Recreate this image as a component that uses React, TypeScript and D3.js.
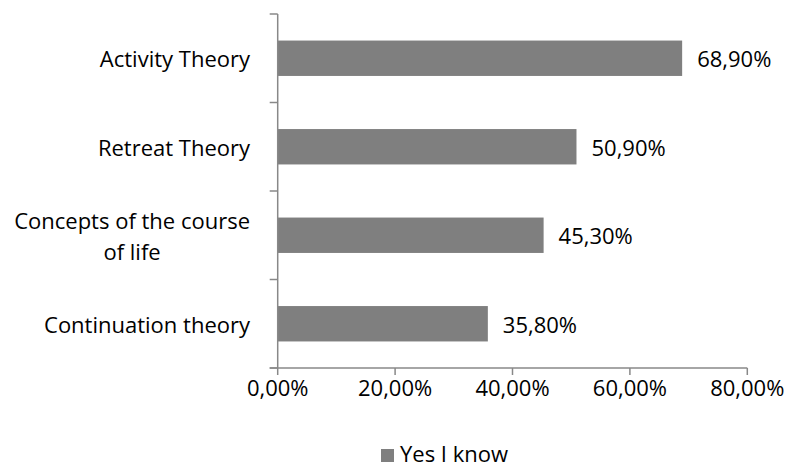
import React, { useEffect, useRef } from 'react';
import * as d3 from 'd3';

const categories = ['Activity Theory', 'Retreat Theory', 'Concepts of the course of life', 'Continuation theory'];
const values = [68.9, 50.9, 45.3, 35.8];
const xTicks = [0, 20, 40, 60, 80];
const seriesName = 'Yes I know';

const W = 787;
const H = 468;
const FONT = "'Open Sans', sans-serif";

const pct = (v: number) => d3.format('.2f')(v).replace('.', ',') + '%';

// greedy word wrap, Excel wraps the long category label
const wrap = (s: string, max: number) => {
  const lines: string[] = [];
  let cur = '';
  s.split(' ').forEach(w => {
    const next = cur ? cur + ' ' + w : w;
    if (next.length > max && cur) {
      lines.push(cur);
      cur = w;
    } else cur = next;
  });
  if (cur) lines.push(cur);
  return lines;
};

const App: React.FC = () => {
  const svgRef = useRef<SVGSVGElement>(null);

  useEffect(() => {
    if (!svgRef.current) return;
    const svg = d3.select(svgRef.current);
    svg.selectAll('*').remove();

    const axisColor = '#888888';
    const barColor = '#7f7f7f';

    const x = d3.scaleLinear().domain([0, 80]).range([277.7, 747.3]);
    const y = d3.scaleBand<string>()
      .domain(categories)
      .range([14, 368])
      .paddingInner(0.6)
      .paddingOuter(0.3);

    const g = svg.append('g').style('font-family', FONT).style('font-size', '22px');

    // bars
    g.selectAll('rect.bar')
      .data(values)
      .join('rect')
      .attr('class', 'bar')
      .attr('x', x(0))
      .attr('y', (_, i) => y(categories[i])!)
      .attr('width', d => x(d) - x(0))
      .attr('height', y.bandwidth())
      .attr('fill', barColor);

    // value labels
    g.selectAll('text.val')
      .data(values)
      .join('text')
      .attr('class', 'val')
      .attr('x', d => x(d) + 15)
      .attr('y', (_, i) => y(categories[i])! + y.bandwidth() / 2)
      .attr('dominant-baseline', 'central')
      .attr('fill', '#000')
      .text(d => pct(d));

    // y axis line + boundary ticks
    const step = y.step();
    const y0 = 14;
    const y1 = 368;
    g.append('line')
      .attr('x1', x(0)).attr('x2', x(0))
      .attr('y1', y0).attr('y2', y1)
      .attr('stroke', axisColor).attr('stroke-width', 1.5);
    d3.range(categories.length + 1).forEach(i => {
      const yy = y0 + i * step;
      g.append('line')
        .attr('x1', x(0) - 8).attr('x2', x(0))
        .attr('y1', yy).attr('y2', yy)
        .attr('stroke', axisColor).attr('stroke-width', 1.5);
    });

    // x axis
    g.append('line')
      .attr('x1', x(0) - 8).attr('x2', x(80))
      .attr('y1', y1).attr('y2', y1)
      .attr('stroke', axisColor).attr('stroke-width', 1.5);
    xTicks.forEach(t => {
      g.append('line')
        .attr('x1', x(t)).attr('x2', x(t))
        .attr('y1', y1).attr('y2', y1 + 7)
        .attr('stroke', axisColor).attr('stroke-width', 1.5);
      g.append('text')
        .attr('x', x(t))
        .attr('y', 396)
        .attr('text-anchor', 'middle')
        .attr('fill', '#000')
        .text(pct(t));
    });

    // category labels (wrapped lines centred inside their block, block right-aligned)
    const labelRight = 250;
    const lineH = 31;
    categories.forEach(c => {
      const lines = wrap(c, 22);
      const cy = y(c)! + y.bandwidth() / 2;
      const texts = lines.map((ln, k) =>
        g.append('text')
          .attr('y', cy + (k - (lines.length - 1) / 2) * lineH)
          .attr('dominant-baseline', 'central')
          .attr('text-anchor', 'middle')
          .attr('fill', '#000')
          .text(ln)
      );
      const widths = texts.map(t => (t.node() as SVGTextElement).getComputedTextLength());
      const blockW = d3.max(widths) || 0;
      texts.forEach(t => t.attr('x', labelRight - blockW / 2));
    });

    // legend
    g.append('rect')
      .attr('x', 381).attr('y', 449)
      .attr('width', 13).attr('height', 13)
      .attr('fill', barColor);
    g.append('text')
      .attr('x', 400).attr('y', 462)
      .attr('fill', '#000')
      .text(seriesName);
  }, []);

  return (
    <svg
      ref={svgRef}
      width={W}
      height={H}
      viewBox={`0 0 ${W} ${H}`}
      style={{ position: 'absolute', left: 0, top: 0, background: '#fff' }}
    />
  );
};

export default App;
